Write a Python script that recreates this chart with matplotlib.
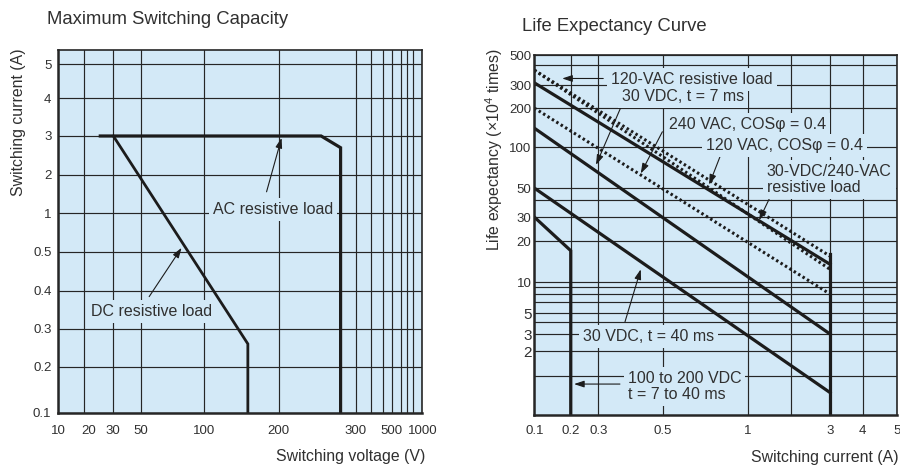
import matplotlib.pyplot as plt
import numpy as np
from matplotlib.ticker import FixedLocator, NullFormatter
from matplotlib.transforms import ScaledTranslation

plt.rcParams['font.family'] = ['Liberation Sans', 'DejaVu Sans']
plt.rcParams['mathtext.fontset'] = 'custom'
plt.rcParams['mathtext.rm'] = 'Liberation Sans'

# Maximum switching capacity
volt_ticks = [10, 20, 30, 50, 100, 200, 300, 500, 1000]
volt_extra = [400, 600, 700, 800, 900]
amp_ticks = [0.1, 0.2, 0.3, 0.4, 0.5, 1, 2, 3, 4, 5]
ac_volt = [25, 250, 277, 277]
ac_amp = [3, 3, 2.7, 0.1]
dc_volt = [30, 150, 150]
dc_amp = [3, 0.26, 0.1]

# Life expectancy (x10^4 operations)
cur_ticks = [0.1, 0.2, 0.3, 0.5, 1, 3, 4, 5]
cur_extra = [2]
life_ticks = [500, 300, 200, 100, 50, 30, 20, 10, 5, 3, 2]
life_extra = [400, 40, 9, 8, 7, 4, 1]
cur_span = [0.1, 3]
life_120vac_res = [372, 15.5]
life_120vac_cos = [372, 12.4]
life_30vdc_240vac_res = [310, 13.5]
life_240vac_cos = [200, 8]
life_30vdc_7ms = [140, 3]
life_30vdc_40ms = [50, 0.6]
hv_cur = [0.1, 0.2, 0.2]
life_hv_dc = [30, 17, 0.3]
limit_cur = [3, 3]
life_limit = [16, 0.3]

# the printed chart paper is hand ruled, so every axis gets its own
# piecewise scale (value -> pixel distance along the axis)
volt_paper = ([10, 20, 30, 50, 100, 200, 300, 400, 500, 600, 700, 800, 900, 1000],
              [0, 26, 55, 82.4, 146, 220.4, 297.4, 312.7, 324.7, 334, 342.4, 349, 355, 363.4])
amp_paper = ([0.1, 0.2, 0.3, 0.4, 0.5, 1, 2, 3, 4, 5, 5.42],
             [0, 46, 84, 122, 161, 199.4, 237.7, 276.7, 314.4, 348.4, 362.7])
cur_paper = ([0.1, 0.2, 0.3, 0.5, 1, 2, 3, 4, 5],
             [0, 36.4, 64, 128.4, 213.4, 256.7, 295.7, 328.4, 362.7])
life_paper = ([0.3, 1, 2, 3, 4, 5, 7, 8, 9, 10, 20, 30, 40, 50, 100, 200, 300, 400, 500],
              [0, 39, 64, 81, 93, 102, 113, 121, 128, 133, 174, 198, 215, 227, 268, 307, 330, 350, 360])

BG = '#d3e9f7'
INK = '#303030'
LINE = '#1c1c1c'
BOX = dict(boxstyle='square,pad=0.25', fc=BG, ec='none')


def paper_scale(paper, log=True):
    vals, px = paper
    k = np.log10(vals) if log else np.asarray(vals, float)
    p = np.asarray(px, float)
    if log:
        def fwd(v):
            return np.interp(np.log10(np.clip(v, 1e-6, None)), k, p)

        def inv(q):
            return 10 ** np.interp(q, p, k)
    else:
        def fwd(v):
            return np.interp(v, k, p)

        def inv(q):
            return np.interp(q, p, k)
    return fwd, inv


def setup_axes(ax, xpaper, ypaper, ylog, xt, xextra, yt, yextra):
    ax.set_xscale('function', functions=paper_scale(xpaper))
    ax.set_yscale('function', functions=paper_scale(ypaper, ylog))
    ax.set_xlim(xpaper[0][0], xpaper[0][-1])
    ax.set_ylim(ypaper[0][0], ypaper[0][-1])
    ax.xaxis.set_major_locator(FixedLocator(xt))
    ax.xaxis.set_minor_locator(FixedLocator(xextra))
    ax.yaxis.set_major_locator(FixedLocator(yt))
    ax.yaxis.set_minor_locator(FixedLocator(yextra))
    ax.set_xticklabels([f'{v:g}' for v in xt])
    ax.set_yticklabels([f'{v:g}' for v in yt])
    ax.xaxis.set_minor_formatter(NullFormatter())
    ax.yaxis.set_minor_formatter(NullFormatter())
    ax.set_facecolor(BG)
    ax.set_axisbelow(True)
    ax.grid(True, which='both', color='#262626', lw=0.85)
    ax.tick_params(which='both', length=0, labelsize=9.5, labelcolor=INK)
    for side, sp in ax.spines.items():
        sp.set_color('#262626')
        sp.set_linewidth(1.8 if side in ('left', 'bottom') else 1.2)


def arrow(ax, tip, tail):
    ax.annotate('', xy=tip, xycoords='data', xytext=tail, textcoords='axes fraction',
                arrowprops=dict(arrowstyle='-|>,head_length=0.6,head_width=0.2',
                                lw=0.8, color=LINE, shrinkA=0, shrinkB=0))


def label(ax, x, y, s, ha='center'):
    ax.text(x, y, s, transform=ax.transAxes, ha=ha, va='center', fontsize=11.5,
            color=INK, bbox=BOX, zorder=4, linespacing=1.1)


fig = plt.figure(figsize=(9, 4.65), dpi=100)

# ---------- Maximum Switching Capacity ----------
ax = fig.add_axes([0.0648, 0.1125, 0.4038, 0.780])
setup_axes(ax, volt_paper, amp_paper, False, volt_ticks, volt_extra, amp_ticks, [])
ax.tick_params(axis='x', pad=9)
ax.tick_params(axis='y', pad=5)
ax.plot(ac_volt, ac_amp, color=LINE, lw=2.3, solid_joinstyle='miter')
ax.plot(dc_volt, dc_amp, color=LINE, lw=2.0, solid_joinstyle='miter')

label(ax, 0.591, 0.559, 'AC resistive load')
arrow(ax, (203, 2.95), (0.573, 0.609))
label(ax, 0.256, 0.278, 'DC resistive load')
arrow(ax, (78, 0.55), (0.250, 0.320))

ax.set_xlabel('Switching voltage (V)', fontsize=11.4, color=INK, ha='right', va='center')
ax.xaxis.set_label_coords(1.01, -0.121)
ax.set_ylabel('Switching current (A)', fontsize=11.4, color=INK, va='center')
ax.yaxis.set_label_coords(-0.110, 0.80)

# small hand offsets of the printed voltage labels
for lbl, dx in zip(ax.get_xticklabels(), [0, 4, 0, 0, 0, 0, 0, 8, 1]):
    lbl.set_transform(lbl.get_transform() + ScaledTranslation(dx / 100, 0, fig.dpi_scale_trans))

fig.text(0.0519, 0.957, 'Maximum Switching Capacity', fontsize=13.3, color=INK, va='center')

# ---------- Life Expectancy Curve ----------
ax2 = fig.add_axes([0.5937, 0.1075, 0.403, 0.774])
setup_axes(ax2, cur_paper, life_paper, True, cur_ticks, cur_extra, life_ticks, life_extra)
ax2.tick_params(axis='x', pad=7)
ax2.tick_params(axis='y', pad=2)
for lbl in ax2.get_yticklabels():
    if lbl.get_text() in ('5', '3', '2'):
        lbl.set_fontsize(11)

dot = dict(color=LINE, lw=2.2, linestyle=(0, (0.8, 0.9)), dash_capstyle='butt')
ax2.plot(cur_span, life_120vac_res, **dot)
ax2.plot(cur_span, life_120vac_cos, **dot)
ax2.plot(cur_span, life_240vac_cos, **dot)
ax2.plot(cur_span, life_30vdc_240vac_res, color=LINE, lw=2.3)
ax2.plot(cur_span, life_30vdc_7ms, color=LINE, lw=2.3)
ax2.plot(cur_span, life_30vdc_40ms, color=LINE, lw=2.3)
ax2.plot(hv_cur, life_hv_dc, color=LINE, lw=2.3, solid_joinstyle='miter')
ax2.plot(limit_cur, life_limit, color=LINE, lw=2.3)

label(ax2, 0.434, 0.933, '120-VAC resistive load')
arrow(ax2, (0.17, 330), (0.190, 0.935))
label(ax2, 0.411, 0.884, '30 VDC, t = 7 ms')
arrow(ax2, (0.29, 74), (0.245, 0.870))
label(ax2, 0.588, 0.806, '240 VAC, COSφ = 0.4')
arrow(ax2, (0.42, 64), (0.353, 0.787))
label(ax2, 0.691, 0.748, '120 VAC, COSφ = 0.4')
arrow(ax2, (0.73, 53), (0.517, 0.731))
label(ax2, 0.641, 0.654, '30-VDC/240-VAC\nresistive load', ha='left')
arrow(ax2, (1.2, 28.5), (0.655, 0.616))
label(ax2, 0.314, 0.219, '30 VDC, t = 40 ms')
arrow(ax2, (0.42, 12.4), (0.250, 0.259))
label(ax2, 0.257, 0.079, '100 to 200 VDC\nt = 7 to 40 ms', ha='left')
arrow(ax2, (0.21, 0.78), (0.236, 0.086))

ax2.set_xlabel('Switching current (A)', fontsize=11.4, color=INK, ha='right', va='center')
ax2.xaxis.set_label_coords(1.004, -0.119)
ax2.set_ylabel('Life expectancy (×10$^{\\mathrm{4}}$ times)', fontsize=11.4, color=INK, va='center')
ax2.yaxis.set_label_coords(-0.111, 0.736)

fig.text(0.5797, 0.944, 'Life Expectancy Curve', fontsize=13.3, color=INK, va='center')

fig.savefig('out.png', dpi=100)
